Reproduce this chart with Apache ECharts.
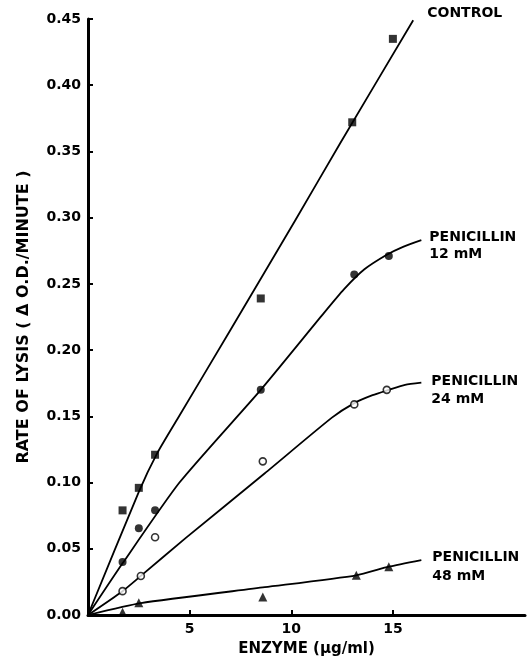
<!DOCTYPE html>
<html><head><meta charset="utf-8">
<script src="https://cdn.jsdelivr.net/npm/echarts@6/dist/echarts.min.js"></script>
<style>html,body{margin:0;padding:0;background:#fff}#c{width:530px;height:658px}</style>
</head><body><div id="c"></div>
<script>
// Tick values
const xTicks = [5, 10, 15];
// Measured points (x: enzyme µg/ml, y: rate of lysis)
const controlPts = [[1.7,0.079],[2.5,0.096],[3.3,0.121],[8.5,0.239],[13.0,0.372],[15.0,0.435]];
const pen12Pts   = [[1.7,0.040],[2.5,0.0655],[3.3,0.079],[8.5,0.170],[13.1,0.257],[14.8,0.271]];
const pen24Pts   = [[1.7,0.018],[2.6,0.0295],[3.3,0.0587],[8.6,0.116],[13.1,0.159],[14.7,0.170]];
const pen48Pts   = [[1.7,0.002],[2.5,0.0093],[8.6,0.0135],[13.2,0.030],[14.8,0.0365]];
// Hand-drawn fitted curves
const controlCurve = [[0,0],[2.5,0.093],[3.4,0.122],[4.4,0.148],[7.0,0.215],[10.2,0.298],[12.4,0.356],[16.0,0.449]];
const pen12Curve   = [[0,0],[1.7,0.039],[4.5,0.100],[8.5,0.170],[11.5,0.226],[12.6,0.246],[13.6,0.261],[14.7,0.272],[15.5,0.278],[16.4,0.283]];
const pen24Curve   = [[0,0],[1.7,0.018],[2.6,0.0295],[4.8,0.058],[8.7,0.107],[12.0,0.149],[13.1,0.160],[14.0,0.166],[14.8,0.170],[15.6,0.1738],[16.4,0.1755]];
const pen48Curve   = [[0,0],[2.6,0.009],[8.7,0.021],[13.2,0.030],[14.8,0.0365],[16.4,0.0415]];
const curveLabels = ['CONTROL', 'PENICILLIN\n12 mM', 'PENICILLIN\n24 mM', 'PENICILLIN\n48 mM'];

const FONT = 'DejaVu Sans';
const chart = echarts.init(document.getElementById('c'), null, {renderer: 'canvas'});

function curve(data, label, offset, lh) {
  return {
    type: 'line', data: data, showSymbol: false, smooth: 0.2,
    clip: false, silent: true, z: 2,
    lineStyle: {color: '#000', width: 1.8, join: 'round'},
    endLabel: {
      show: true, formatter: label, color: '#000', fontFamily: FONT, fontWeight: 'bold',
      fontSize: 14, lineHeight: lh, align: 'left', verticalAlign: 'middle', distance: 0, offset: offset
    }
  };
}
function pts(data, symbol, size, filled) {
  return {
    type: 'scatter', data: data, symbol: symbol, symbolSize: size, clip: false, z: 3,
    itemStyle: filled ? {color: '#000'} : {color: '#fff', borderColor: '#000', borderWidth: 1.6}
  };
}

chart.setOption({
  animation: false,
  backgroundColor: '#fff',
  grid: {left: 88, right: 5, top: 19, bottom: 43, containLabel: false, outerBoundsMode: 'none'},
  xAxis: {
    type: 'value', min: 0, max: 21.5, interval: 5,
    name: 'ENZYME (µg/ml)', nameLocation: 'middle', nameGap: 27,
    nameTextStyle: {color: '#000', fontFamily: FONT, fontWeight: 'bold', fontSize: 15},
    axisLine: {show: true, lineStyle: {color: '#000', width: 3}},
    axisTick: {show: true, inside: true, length: 5, customValues: xTicks, lineStyle: {color: '#000', width: 2}},
    axisLabel: {customValues: xTicks, color: '#000', fontFamily: FONT, fontWeight: 'bold', fontSize: 14, margin: 7},
    splitLine: {show: false}
  },
  yAxis: {
    type: 'value', min: 0, max: 0.45, interval: 0.05,
    name: 'RATE OF LYSIS ( Δ O.D./MINUTE )', nameLocation: 'middle', nameGap: 56,
    nameTextStyle: {color: '#000', fontFamily: FONT, fontWeight: 'bold', fontSize: 16},
    axisLine: {show: true, lineStyle: {color: '#000', width: 3}},
    axisTick: {show: true, inside: true, length: 5, lineStyle: {color: '#000', width: 2}},
    axisLabel: {color: '#000', fontFamily: FONT, fontWeight: 'bold', fontSize: 14, margin: 7,
      formatter: v => v.toFixed(2)},
    splitLine: {show: false}
  },
  series: [
    curve(controlCurve, curveLabels[0], [14, -7], 17),
    curve(pen12Curve, curveLabels[1], [8, 6], 17),
    curve(pen24Curve, curveLabels[2], [10, 8], 18),
    curve(pen48Curve, curveLabels[3], [11, 7], 19)
  ].concat([
    pts(controlPts, 'rect', 8, true),
    pts(pen12Pts, 'circle', 8, true),
    pts(pen24Pts, 'circle', 7, false),
    pts(pen48Pts, 'triangle', 9, true)
  ])
});
</script></body></html>
